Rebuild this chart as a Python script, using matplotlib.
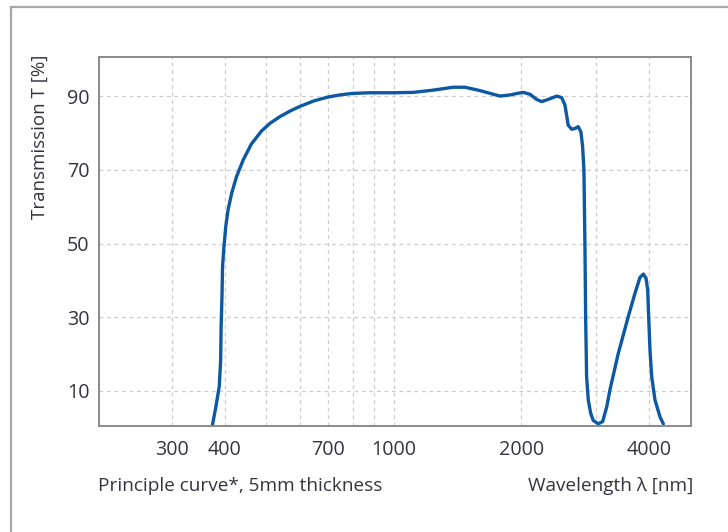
import matplotlib
matplotlib.use("Agg")
import matplotlib.pyplot as plt
from matplotlib.patches import Rectangle
from matplotlib.ticker import FixedLocator, NullFormatter

plt.rcParams['font.family'] = ['Open Sans', 'DejaVu Sans']

# Transmission curve (wavelength in nm, transmission in %)
wavelength = [374, 381, 388, 391, 392, 394, 395, 398, 402, 407, 415, 426, 442,
              462, 488, 511, 539, 569, 601, 649, 698, 746, 796, 879, 992,
              1112, 1238, 1381, 1472, 1596, 1781, 1880, 1950, 2021, 2096,
              2173, 2234, 2315, 2423, 2489, 2534, 2557, 2580, 2628, 2676,
              2724, 2764, 2790, 2810, 2826, 2836, 2851, 2877, 2914, 2956,
              3038, 3111, 3180, 3236, 3386, 3575, 3707, 3809, 3879, 3936,
              3972, 3993, 4022, 4059, 4132, 4246, 4324]
transmission = [0.8, 5.7, 11.2, 18.4, 27.4, 36.5, 43.7, 49.1, 54.6, 59.1, 63.6,
                68.1, 72.7, 77.0, 80.5, 82.6, 84.4, 85.9, 87.2, 88.7, 89.7,
                90.3, 90.7, 90.9, 90.9, 91.0, 91.6, 92.4, 92.4, 91.5, 90.0,
                90.3, 90.7, 91.0, 90.5, 89.1, 88.5, 89.1, 90.0, 89.6, 87.6,
                84.9, 82.1, 81.0, 81.2, 81.7, 80.3, 76.3, 69.9, 48.2, 30.2,
                13.9, 7.6, 4.0, 2.0, 1.1, 1.7, 5.7, 10.3, 20.2, 30.2, 36.5,
                40.8, 41.7, 40.6, 37.4, 30.2, 21.1, 13.9, 7.6, 3.0, 1.1]

x_major = [300, 400, 700, 1000, 2000, 4000]
x_minor = [500, 600, 800, 900, 3000]
y_ticks = [10, 30, 50, 70, 90]

text_color = '#34343f'
grid_color = '#cccccc'
spine_color = '#8a8a8a'
line_color = '#0d58a3'

W, H = 728, 532
fig = plt.figure(figsize=(W / 100, H / 100), dpi=100)

# outer frame, running off the right and bottom edges
fig.patches.append(Rectangle((11 / W, -0.05), 1.2, 1 - 7 / H + 0.05,
                             transform=fig.transFigure, fill=False,
                             edgecolor='#a6a6a6', linewidth=1.6))

ax = fig.add_axes([99 / W, 1 - 426 / H, (691 - 99) / W, (426 - 57) / H])
ax.set_xscale('log')
ax.set_xlim(202, 5025)
ax.set_ylim(0.5, 100.6)

ax.xaxis.set_major_locator(FixedLocator(x_major))
ax.xaxis.set_minor_locator(FixedLocator(x_minor))
ax.xaxis.set_minor_formatter(NullFormatter())
ax.set_xticklabels([str(v) for v in x_major])
ax.set_yticks(y_ticks)

ax.tick_params(axis='both', which='both', length=0, labelsize=14.2,
               labelcolor=text_color)
ax.tick_params(axis='x', pad=10)
ax.tick_params(axis='y', pad=7)

ax.grid(True, which='both', axis='x', color=grid_color, linestyle=(0, (3, 3)),
        linewidth=0.9)
ax.grid(True, which='major', axis='y', color=grid_color, linestyle=(0, (3, 3)),
        linewidth=0.9)
ax.set_axisbelow(True)

for s in ax.spines.values():
    s.set_color(spine_color)
    s.set_linewidth(1.4)

ax.plot(wavelength, transmission, color=line_color, linewidth=2.4,
        solid_joinstyle='round', solid_capstyle='round', clip_on=True)

fig.text(40 / W, 1 - 55 / H, 'Transmission T [%]', rotation=90, ha='center',
         va='top', fontsize=13.5, color=text_color)
fig.text(98 / W, 1 - 486 / H, 'Principle curve*, 5mm thickness', ha='left',
         va='center', fontsize=13.7, color=text_color)
fig.text(693 / W, 1 - 486 / H, 'Wavelength λ [nm]', ha='right',
         va='center', fontsize=13.7, color=text_color)

fig.savefig('out.png', dpi=100)
